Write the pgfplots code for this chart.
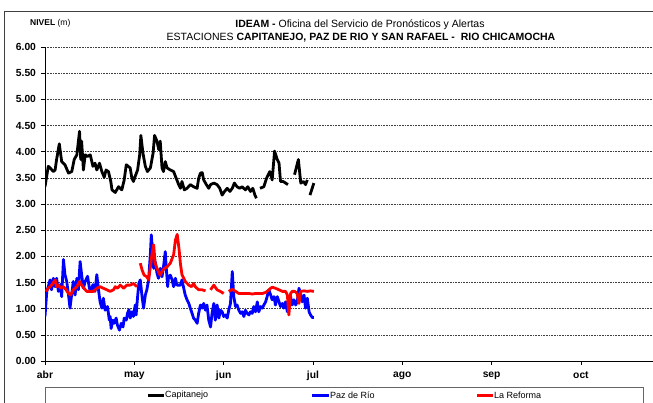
\documentclass[border=0pt]{standalone}
\usepackage{fontspec}
\setmainfont{Liberation Sans}
\usepackage{pgfplots}
\pgfplotsset{compat=1.18}

\begin{document}
\begin{tikzpicture}[x=1pt,y=1pt]
\begin{axis}[
    at={(45pt,42pt)}, anchor=south west,
    scale only axis, width=608pt, height=314pt,
    xmin=0, xmax=204.2, ymin=0, ymax=6,
    axis x line*=bottom, axis y line*=left,
    axis line style={-, black, line width=0.8pt},
    xtick={0,30,60,90,120,150,180},
    xticklabels={abr,may,jun,jul,ago,sep,oct},
    ytick={0,0.5,1,1.5,2,2.5,3,3.5,4,4.5,5,5.5,6},
    /pgf/number format/assume math mode=true,
    yticklabel={\pgfmathprintnumber[fixed,fixed zerofill,precision=2]{\tick}},
    ticklabel style={font=\fontsize{10.3}{12}\selectfont\bfseries},
    yticklabel style={xshift=-1.5pt},
    xticklabel style={yshift=-3pt},
    tick align=outside, major tick length=4pt,
    tick style={black, line width=0.6pt},
    ymajorgrids,
    grid style={black!75, line width=0.6pt, dash pattern=on 0.8pt off 0.8pt},
    unbounded coords=jump,
    line join=round,
]
% Capitanejo
\addplot[black, line width=2.8pt] coordinates {
(0,3.33)(1.1,3.72)(1.7,3.69)(2.8,3.62)(3.4,3.65)(3.9,3.85)(4.8,4.15)(5.6,3.81)(6.7,3.75)(7.9,3.59)
(9.0,3.62)(9.8,3.85)(10.7,3.94)(11.6,4.39)(12.0,3.85)(12.3,4.20)(12.9,3.65)(13.5,3.94)(14.3,3.91)
(15.2,3.94)(16.1,3.72)(16.8,3.78)(17.4,3.65)(18.3,3.78)(19.1,3.62)(19.9,3.51)(20.5,3.65)(21.3,3.62)
(22.1,3.43)(22.5,3.27)(23.6,3.22)(24.7,3.33)(25.8,3.27)(26.6,3.46)(27.3,3.75)(28.6,3.69)(29.2,3.49)
(29.7,3.43)(30.3,3.53)(31.1,3.65)(31.8,3.94)(32.2,4.31)(32.9,3.97)(33.7,3.72)(34.4,3.62)(35.4,3.69)
(36.3,3.97)(36.8,4.31)(37.6,4.20)(38.2,4.04)(38.7,4.20)(39.3,3.69)(39.8,3.62)(40.4,3.81)(41.0,3.69)
(42.1,3.65)(43.2,3.62)(43.8,3.53)(44.9,3.37)(45.5,3.30)(46.0,3.43)(46.8,3.27)(47.7,3.30)(48.8,3.37)
(49.9,3.33)(51.1,3.30)(51.6,3.49)(52.2,3.59)(52.8,3.60)(53.3,3.46)(54.2,3.37)(55.0,3.30)(55.6,3.37)
(56.7,3.40)(57.8,3.37)(58.7,3.30)(59.5,3.17)(60.3,3.24)(61.2,3.30)(62.1,3.24)(62.9,3.30)(63.6,3.40)
(64.5,3.33)(65.4,3.30)(66.2,3.33)(67.3,3.27)(68.1,3.33)(69.0,3.24)(69.8,3.30)(70.5,3.17)(71.0,3.11)
(71.6,nan)
(72.2,3.30)(73.5,3.33)(74.4,3.49)(75.5,3.62)(76.3,3.46)(77.1,4.01)(78.0,3.85)(78.6,3.78)(79.1,3.43)
(80.0,3.43)(80.8,3.40)(81.6,3.37)
(82.7,nan)
(83.8,3.56)(85.1,3.85)(85.9,3.40)(86.8,3.43)(87.5,3.37)(88.1,3.46)
(88.5,nan)
(89.0,3.17)(90.3,3.40)
};
% Paz de Rio
\addplot[blue, line width=2.8pt] coordinates {
(0,0.85)(0.6,1.33)(1.1,1.42)(1.7,1.55)(2.2,1.36)(2.8,1.58)(3.4,1.42)(3.9,1.58)(4.5,1.33)(5.1,1.46)
(5.6,1.23)(6.2,1.94)(6.7,1.65)(7.3,1.52)(7.9,1.26)(8.4,1.01)(9.0,1.29)(9.5,1.52)(10.1,1.26)(10.7,1.58)
(11.2,1.36)(11.8,1.90)(12.3,1.65)(12.9,1.39)(13.5,1.52)(14.3,1.62)(14.9,1.39)(15.4,1.33)(16.1,1.46)
(16.8,1.33)(17.4,1.65)(17.9,1.39)(18.5,1.13)(19.1,1.01)(19.6,1.20)(20.2,0.97)(21.0,1.04)(21.6,0.78)
(21.9,0.85)(22.2,0.62)(22.8,0.78)(23.2,0.72)(23.9,0.82)(24.3,0.69)(25.0,0.59)(25.6,0.72)(26.2,0.65)
(26.6,0.82)(27.3,0.78)(27.7,0.91)(28.2,0.98)(28.6,0.82)(29.2,0.94)(29.7,0.85)(30.3,1.07)(30.6,0.88)
(31.1,1.23)(31.5,1.48)(32.0,1.55)(32.6,1.23)(33.1,1.01)(33.7,1.26)(34.2,1.36)(34.8,1.55)(35.4,2.06)
(35.7,2.41)(36.1,2.12)(36.5,1.77)(37.0,1.90)(37.6,1.68)(38.1,1.58)(38.7,1.77)(39.3,1.61)(39.8,1.80)
(40.4,2.09)(40.7,1.80)(41.2,1.42)(41.5,1.61)(42.1,1.64)(42.7,1.55)(43.2,1.42)(43.8,1.58)(44.3,1.45)
(45.5,1.45)(46.0,1.55)(46.6,1.39)(47.1,1.26)(47.7,1.17)(48.3,1.10)(48.8,1.01)(49.4,0.91)(49.9,0.82)
(50.5,0.78)(51.1,0.72)(51.6,0.91)(52.2,1.07)(52.8,1.01)(53.3,1.10)(53.9,0.97)(54.4,1.07)(55.0,0.78)
(55.6,0.65)(56.1,0.91)(56.7,1.10)(57.2,0.78)(57.8,1.07)(58.4,0.82)(58.9,0.97)(59.5,0.94)(60.0,0.85)
(60.6,0.88)(61.2,0.82)(61.7,0.97)(62.3,1.10)(62.9,1.71)(63.4,1.23)(64.0,1.04)(64.5,1.07)(65.1,0.97)
(65.7,0.91)(66.2,0.94)(66.8,0.85)(67.3,0.97)(67.9,0.91)(68.5,0.88)(69.0,0.94)(69.6,0.91)(70.1,1.04)
(70.7,0.94)(71.3,1.13)(71.8,0.94)(72.4,1.04)(73.0,1.01)(73.5,1.07)(74.1,1.13)(74.6,1.23)(75.2,1.36)
(75.8,1.26)(76.3,1.17)(76.9,1.23)(77.4,1.07)(78.0,1.23)(78.6,1.13)(79.1,1.04)(79.7,1.10)(80.2,1.01)
(80.8,1.13)(81.4,0.94)(81.9,1.13)(82.5,1.23)(83.0,1.07)(83.6,1.17)(84.2,1.07)(84.7,1.13)(85.3,1.39)
(85.9,1.26)(86.4,1.13)(87.0,1.26)(87.5,1.01)(88.1,1.20)(88.7,0.94)(89.2,0.88)(89.8,0.83)(90.3,0.83)
};
% La Reforma
\addplot[red, line width=2.8pt] coordinates {
(0.3,1.33)(1.1,1.39)(2.2,1.45)(3.4,1.55)(3.9,1.42)(4.5,1.45)(5.3,1.39)(6.2,1.42)(7.1,1.36)(7.9,1.29)
(8.6,1.26)(9.5,1.36)(10.7,1.42)(11.6,1.52)(12.3,1.45)(13.1,1.39)(14.0,1.33)(15.2,1.33)(16.3,1.33)
(17.4,1.39)(18.5,1.42)(19.6,1.39)(20.8,1.36)(21.9,1.33)(23.0,1.36)(23.6,1.42)(24.3,1.39)(25.3,1.45)
(26.4,1.39)(27.5,1.45)(28.6,1.45)(29.7,1.48)(30.9,1.42)
(31.4,nan)
(32.0,1.87)(32.6,1.74)(33.3,1.64)(34.2,1.61)(34.8,1.55)(35.4,1.80)(35.9,2.03)(36.5,2.22)(37.0,1.87)
(37.6,1.77)(38.1,1.71)(38.7,1.64)(39.3,1.71)(40.1,1.77)(41.0,1.80)(42.1,1.87)(42.7,1.96)(43.2,2.03)
(43.8,2.31)(44.4,2.42)(45.0,2.15)(45.5,1.85)(46.0,1.65)(46.6,1.58)(47.1,1.52)(48.3,1.45)(49.2,1.42)
(49.9,1.48)(50.5,1.42)(51.6,1.36)(52.8,1.36)(53.9,1.34)
(54.7,nan)
(55.6,1.36)(56.7,1.45)(57.8,1.36)(58.9,1.33)(60.0,1.29)
(60.8,nan)
(61.7,1.33)(62.9,1.37)(64.0,1.33)(65.1,1.29)(66.2,1.29)(67.3,1.29)(68.5,1.29)(69.6,1.28)(70.7,1.29)
(71.8,1.29)(73.0,1.29)(74.1,1.31)(75.2,1.36)(75.8,1.39)(76.3,1.41)(77.4,1.39)(78.6,1.36)(79.7,1.33)
(80.8,1.33)(81.4,1.26)(81.9,0.88)(82.5,1.29)(83.0,1.33)(83.9,1.33)(84.7,1.29)(85.3,1.10)(85.9,1.33)
(87.0,1.34)(88.1,1.33)(89.2,1.34)(90.3,1.33)
};
\end{axis}

% titles
\node[anchor=base, font=\fontsize{10.5}{12}\selectfont, inner sep=0pt] at (360,375)
  {\textbf{IDEAM -} Oficina del Servicio de Pronósticos y Alertas};
\node[anchor=base, font=\fontsize{10.5}{12}\selectfont, inner sep=0pt] at (361,362)
  {ESTACIONES \textbf{CAPITANEJO, PAZ DE RIO Y SAN RAFAEL -\ \ RIO CHICAMOCHA}};
\node[anchor=base west, font=\fontsize{8.5}{10}\selectfont, inner sep=0pt] at (30,377)
  {\textbf{NIVEL} (m)};

% outer frame
\draw[black!75, line width=0.8pt] (4,-10) -- (4,392) -- (670,392);

% legend
\draw[black!60, line width=0.8pt] (45,-6) rectangle (643,16);
\begin{scope}[font=\fontsize{9}{10}\selectfont]
\draw[black, line width=3pt] (148,7.5) -- (164,7.5);
\node[anchor=west, inner sep=1pt] at (164,7.5) {Capitanejo};
\draw[blue, line width=3pt] (312,7.5) -- (329,7.5);
\node[anchor=west, inner sep=1pt] at (329,7.5) {Paz de Río};
\draw[red, line width=3pt] (477,7.5) -- (493,7.5);
\node[anchor=west, inner sep=1pt] at (493,7.5) {La Reforma};
\end{scope}

\pgfresetboundingbox
\path[use as bounding box] (0,0) rectangle (653,403);
\end{tikzpicture}
\end{document}
